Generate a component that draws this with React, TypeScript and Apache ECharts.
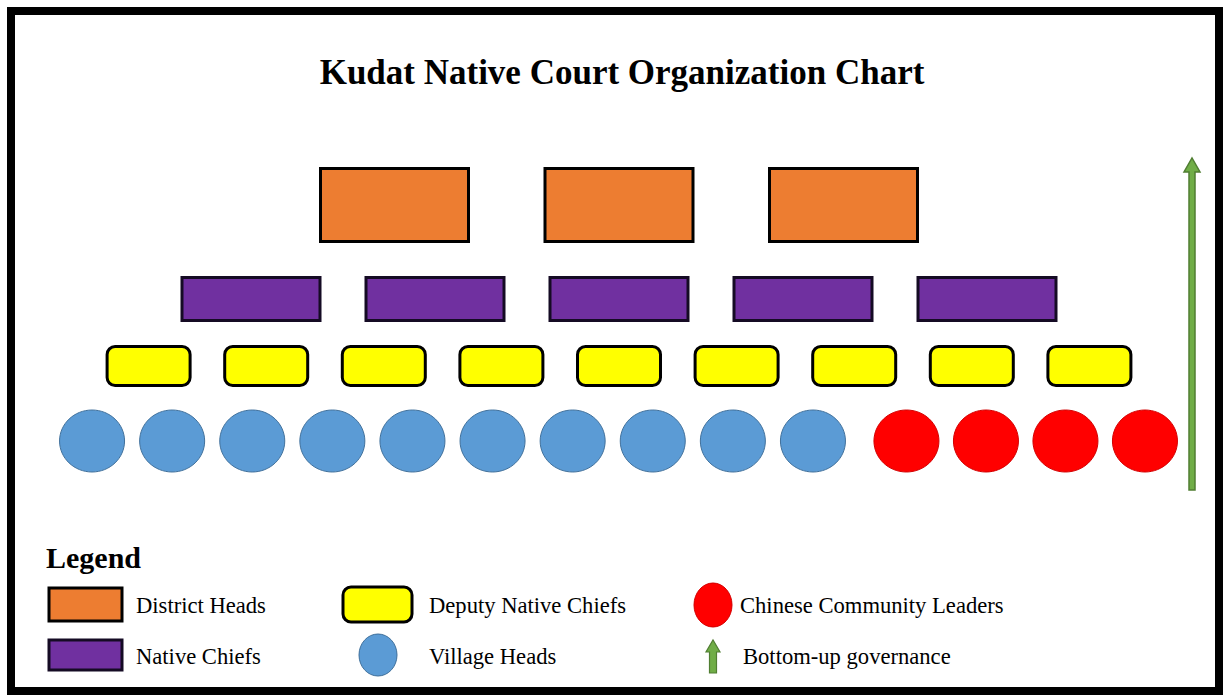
import React, { useEffect, useRef } from "react";
import * as echarts from "echarts";

// ---- Data ----
const chartTitle = "Kudat Native Court Organization Chart";
const tierNames = [
  "District Heads",
  "Native Chiefs",
  "Deputy Native Chiefs",
  "Village Heads",
  "Chinese Community Leaders",
];
const tierCounts = [3, 5, 9, 10, 4];
const legendHeading = "Legend";
const arrowLabel = "Bottom-up governance";

// ---- Styles / layout ----
const W = 1223;
const H = 695;
const FONT = "'Liberation Serif', 'Times New Roman', serif";
const fills = ["#ED7D31", "#7030A0", "#FFFF00", "#5B9BD5", "#FF0000"];
const strokes = ["#000000", "#150B24", "#000000", "#41719C", "#D40000"];
const strokeWidths = [3, 3, 3, 1, 1];
const rowY = [205, 299, 366, 441, 441];
const boxW = [148, 138, 83, 65, 65];
const boxH = [73, 43, 39, 62, 62];
const gaps = [224.5, 184, 117.6, 80.1, 79.5];
const radii = [0, 0, 8, 0, 0];
const ROW_CX = 619;
const BOTTOM_CX = 618.5;
const GROUP_GAP = 93.5;

function tierPositions(t: number): number[][] {
  const n = tierCounts[t];
  if (t < 3) {
    const xs: number[][] = [];
    for (let i = 0; i < n; i++) xs.push([ROW_CX + (i - (n - 1) / 2) * gaps[t], rowY[t]]);
    return xs;
  }
  const nb = tierCounts[3];
  const nr = tierCounts[4];
  const span = (nb - 1) * gaps[3] + GROUP_GAP + (nr - 1) * gaps[4];
  const start = BOTTOM_CX - span / 2;
  const out: number[][] = [];
  if (t === 3) {
    for (let i = 0; i < nb; i++) out.push([start + i * gaps[3], rowY[3]]);
  } else {
    const rs = start + (nb - 1) * gaps[3] + GROUP_GAP;
    for (let j = 0; j < nr; j++) out.push([rs + j * gaps[4], rowY[4]]);
  }
  return out;
}

function makeSeries(t: number) {
  return {
    type: "custom",
    name: tierNames[t],
    coordinateSystem: "cartesian2d",
    data: tierPositions(t),
    silent: true,
    renderItem: (params: any, api: any) => {
      const p = api.coord([api.value(0), api.value(1)]);
      const style = { fill: fills[t], stroke: strokes[t], lineWidth: strokeWidths[t] };
      if (t >= 3) {
        return {
          type: "ellipse",
          shape: { cx: p[0], cy: p[1], rx: boxW[t] / 2, ry: boxH[t] / 2 },
          style,
        };
      }
      return {
        type: "rect",
        shape: { x: p[0] - boxW[t] / 2, y: p[1] - boxH[t] / 2, width: boxW[t], height: boxH[t], r: radii[t] },
        style,
      };
    },
  };
}

function arrowPoints(cx: number, top: number, bottom: number, shaftW: number, headW: number, headH: number) {
  const s = shaftW / 2;
  const hw = headW / 2;
  return [
    [cx - s, bottom],
    [cx + s, bottom],
    [cx + s, top + headH],
    [cx + hw, top + headH],
    [cx, top],
    [cx - hw, top + headH],
    [cx - s, top + headH],
  ];
}

const textStyle = (x: number, y: number, text: string, size: number, bold = false) => ({
  type: "text",
  x,
  y,
  silent: true,
  style: {
    text,
    fill: "#000",
    font: `${bold ? "bold " : ""}${size}px ${FONT}`,
    textAlign: "left",
    textVerticalAlign: "middle",
  },
});

export default function App() {
  const ref = useRef<HTMLDivElement>(null);
  useEffect(() => {
    if (!ref.current) return;
    const chart = echarts.init(ref.current, undefined, { renderer: "svg" });
    const green = "#70AD47";
    const greenStroke = "#507E32";
    const option: any = {
      animation: false,
      backgroundColor: "#ffffff",
      title: {
        text: chartTitle,
        left: 617,
        textAlign: "center",
        top: 50,
        textStyle: { fontFamily: FONT, fontSize: 35, fontWeight: "bold", color: "#000" },
      },
      grid: { left: 0, right: 0, top: 0, bottom: 0, containLabel: false },
      xAxis: { type: "value", min: 0, max: W, show: false },
      yAxis: { type: "value", min: 0, max: H, inverse: true, show: false },
      series: [0, 1, 2, 3, 4].map(makeSeries),
      graphic: [
        {
          type: "rect",
          silent: true,
          shape: { x: 11, y: 11, width: 1208, height: 680 },
          style: { fill: "none", stroke: "#000", lineWidth: 8 },
        },
        {
          type: "polygon",
          silent: true,
          shape: { points: arrowPoints(1192, 158, 490, 6, 16, 14) },
          style: { fill: green, stroke: greenStroke, lineWidth: 1.5 },
        },
        textStyle(46, 557, legendHeading, 30, true),
        {
          type: "rect",
          silent: true,
          shape: { x: 49, y: 588, width: 73, height: 33 },
          style: { fill: fills[0], stroke: strokes[0], lineWidth: 3 },
        },
        {
          type: "rect",
          silent: true,
          shape: { x: 49, y: 640, width: 73, height: 30 },
          style: { fill: fills[1], stroke: strokes[1], lineWidth: 3 },
        },
        {
          type: "rect",
          silent: true,
          shape: { x: 343, y: 587, width: 69, height: 35, r: 8 },
          style: { fill: fills[2], stroke: strokes[2], lineWidth: 3 },
        },
        {
          type: "ellipse",
          silent: true,
          shape: { cx: 378, cy: 655, rx: 19, ry: 21 },
          style: { fill: fills[3], stroke: strokes[3], lineWidth: 1 },
        },
        {
          type: "ellipse",
          silent: true,
          shape: { cx: 713, cy: 605, rx: 19, ry: 22 },
          style: { fill: fills[4], stroke: strokes[4], lineWidth: 1 },
        },
        {
          type: "polygon",
          silent: true,
          shape: { points: arrowPoints(713, 640, 673, 7, 14, 12) },
          style: { fill: green, stroke: greenStroke, lineWidth: 1.2 },
        },
        textStyle(136, 605, tierNames[0], 22.6),
        textStyle(136, 656, tierNames[1], 22.6),
        textStyle(429, 605, tierNames[2], 22.6),
        textStyle(429, 656, tierNames[3], 22.6),
        textStyle(740, 605, tierNames[4], 22.6),
        textStyle(743, 656, arrowLabel, 22.6),
      ],
    };
    chart.setOption(option);
    return () => chart.dispose();
  }, []);
  return (
    <div
      ref={ref}
      style={{ position: "fixed", left: 0, top: 0, width: W, height: H, background: "#fff" }}
    />
  );
}
